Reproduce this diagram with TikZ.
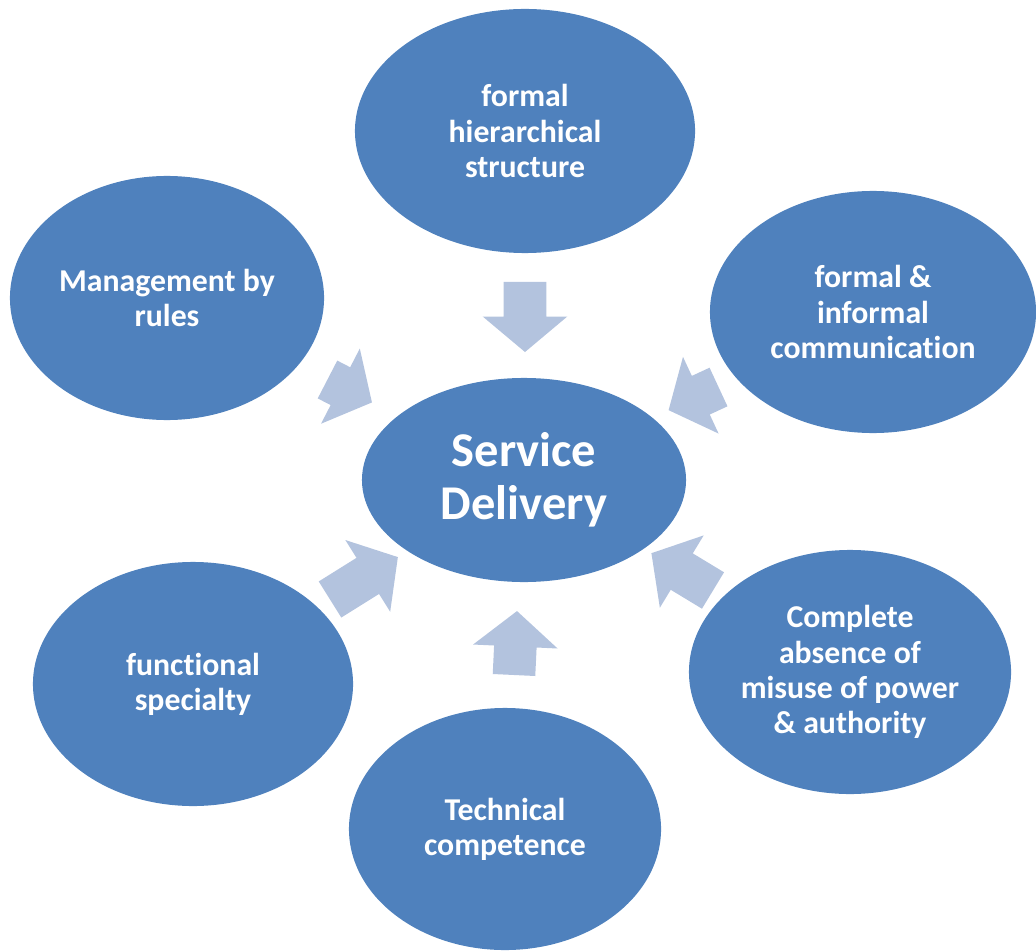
\documentclass[tikz,border=0pt]{standalone}
\usepackage{fontspec}
\setmainfont{Carlito}[Ligatures=NoCommon]
\usetikzlibrary{shapes.geometric,shapes.arrows}

\definecolor{bubbleblue}{HTML}{4F81BD}
\definecolor{pushblue}{HTML}{B3C3DE}

\begin{document}
\begin{tikzpicture}[x=0.025cm,y=0.025cm,
  bubble/.style={ellipse,fill=bubbleblue,inner sep=0pt,text=white,align=center,
    font=\bfseries\fontsize{22.6}{25}\selectfont},
  push/.style={single arrow,fill=pushblue,inner xsep=0pt,inner ysep=0.525cm,outer sep=0pt,
    single arrow head extend=0.525cm,single arrow tip angle=100,anchor=tail}]
\useasboundingbox (0,0) rectangle (1036,950);

% outer bubbles
\node[bubble,minimum width=8.5cm,minimum height=6.1cm] at (525,819) (hier) {formal\\hierarchical\\structure};
\node[bubble,minimum width=7.85cm,minimum height=6.1cm] at (167,652) (rules) {Management by\\rules};
\node[bubble,minimum width=8.15cm,minimum height=6.05cm] at (873,638) (comm) {formal \&\\informal\\communication};
\node[bubble,minimum width=8cm,minimum height=6.1cm] at (193,266) (specialty) {functional\\specialty};
\node[bubble,minimum width=7.8cm,minimum height=6.05cm] at (505,121) (competence) {Technical\\competence};
\node[bubble,minimum width=8.05cm,minimum height=6.1cm] at (850,278) (power) {Complete\\absence of\\misuse of power\\\& authority};

% centre
\node[bubble,minimum width=8.1cm,minimum height=5.1cm,font=\bfseries\fontsize{34.5}{38}\selectfont] at (524,470) (service) {Service\\Delivery};

% block arrows into the centre (placed by their tails)
\node[push,minimum height=1.75cm,minimum width=2.1cm,rotate=-90] at (525,668) (a1) {};
\node[push,minimum height=1.25cm,minimum width=2.1cm,rotate=-27.3] at (327.5,570.5) (a2) {};
\node[push,minimum height=1.375cm,minimum width=2.1cm,rotate=204.9] at (718.5,563) (a3) {};
\node[push,minimum height=2cm,minimum width=2.1cm,rotate=32] at (330,350.5) (a4) {};
\node[push,minimum height=1.6cm,minimum width=2.1cm,rotate=87.3] at (514,275) (a5) {};
\node[push,minimum height=1.8cm,minimum width=2.1cm,rotate=148.8] at (713,359.5) (a6) {};
\end{tikzpicture}
\end{document}
